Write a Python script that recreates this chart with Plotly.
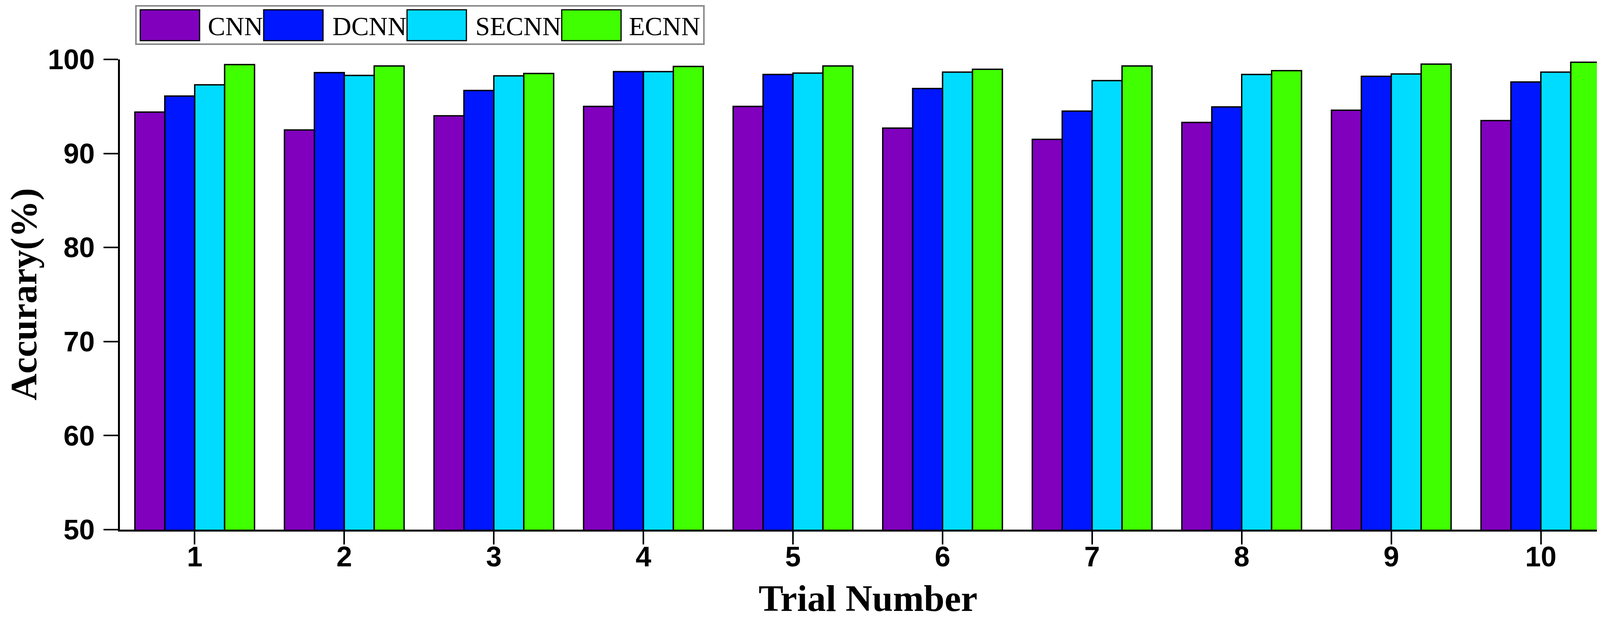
import plotly.graph_objects as go

# ---- data ----
trials = [1, 2, 3, 4, 5, 6, 7, 8, 9, 10]
series_names = ["CNN", "DCNN", "SECNN", "ECNN"]
cnn = [94.4, 92.5, 94.0, 95.0, 95.0, 92.7, 91.5, 93.3, 94.6, 93.5]
dcnn = [96.1, 98.6, 96.7, 98.7, 98.4, 96.9, 94.5, 94.95, 98.2, 97.6]
secnn = [97.3, 98.3, 98.25, 98.7, 98.55, 98.65, 97.75, 98.4, 98.45, 98.65]
ecnn = [99.45, 99.3, 98.5, 99.25, 99.3, 98.95, 99.3, 98.8, 99.5, 99.7]
y_ticks = [50, 60, 70, 80, 90, 100]

series_values = [cnn, dcnn, secnn, ecnn]
colors = ["#8000BE", "#0016FF", "#00DCFF", "#40FF00"]

# page body has an 8px default margin, so the figure is sized to fit inside it
PAGE_OFF = 8
W, H = 4150 - 2 * PAGE_OFF, 1599 - 2 * PAGE_OFF
# plot area in page pixels
L, R, T, B = 307, 4136, 152, 1355


def px_x(p):
    return (p - L) / (R - L)


def px_y(p):
    return (B - p) / (B - T)


fig = go.Figure()
for name, vals, col in zip(series_names, series_values, colors):
    fig.add_trace(go.Bar(
        x=trials, y=vals, name=name,
        marker=dict(color=col, line=dict(color="black", width=3.5)),
        showlegend=False,
    ))

# ---- manual legend (large swatches like the original) ----
shapes = []
annotations = []
shapes.append(dict(type="rect", xref="paper", yref="paper",
                   x0=px_x(348), x1=px_x(1802), y0=px_y(113), y1=px_y(15),
                   line=dict(color="#8a8a8a", width=4), fillcolor="white", layer="above"))
sw_left = [359, 675, 1042, 1438]
txt_left = [530, 849, 1215, 1608]
for name, col, sx, tx in zip(series_names, colors, sw_left, txt_left):
    shapes.append(dict(type="rect", xref="paper", yref="paper",
                       x0=px_x(sx), x1=px_x(sx + 152), y0=px_y(104), y1=px_y(25),
                       line=dict(color="black", width=3), fillcolor=col, layer="above"))
    annotations.append(dict(xref="paper", yref="paper", x=px_x(tx), y=px_y(67),
                            xanchor="left", yanchor="middle", text=name, showarrow=False,
                            font=dict(family="Liberation Serif", size=67, color="black")))

# axis titles
annotations.append(dict(xref="paper", yref="paper", x=0.5, y=px_y(1531),
                        xanchor="center", yanchor="middle", text="<b>Trial Number</b>",
                        showarrow=False,
                        font=dict(family="Liberation Serif", size=95, color="black")))
annotations.append(dict(xref="paper", yref="paper", x=px_x(60), y=0.5,
                        xanchor="center", yanchor="middle", text="<b>Accurary(%)</b>",
                        textangle=-90, showarrow=False,
                        font=dict(family="Liberation Serif", size=95, color="black")))

fig.update_layout(
    width=W, height=H, autosize=False,
    margin=dict(l=L - PAGE_OFF, r=W - (R - PAGE_OFF), t=T - PAGE_OFF,
                b=H - (B - PAGE_OFF), pad=0),
    paper_bgcolor="white", plot_bgcolor="white",
    barmode="group", bargap=0.2, bargroupgap=0,
    shapes=shapes, annotations=annotations,
    xaxis=dict(range=[0.5, 10.5], tickmode="array", tickvals=trials,
               ticktext=[str(t) for t in trials],
               showline=True, linecolor="black", linewidth=5,
               ticks="outside", ticklen=33, tickwidth=4, tickcolor="black",
               showgrid=False, zeroline=False, ticklabelstandoff=-30,
               tickfont=dict(family="Liberation Sans", size=72, color="black", weight="bold")),
    yaxis=dict(range=[50, 100], tickmode="array", tickvals=y_ticks,
               showline=True, linecolor="black", linewidth=5,
               ticks="outside", ticklen=37, tickwidth=4, tickcolor="black",
               showgrid=False, zeroline=False, ticklabelstandoff=8,
               tickfont=dict(family="Liberation Sans", size=72, color="black", weight="bold")),
)

fig.write_html("out.html")
